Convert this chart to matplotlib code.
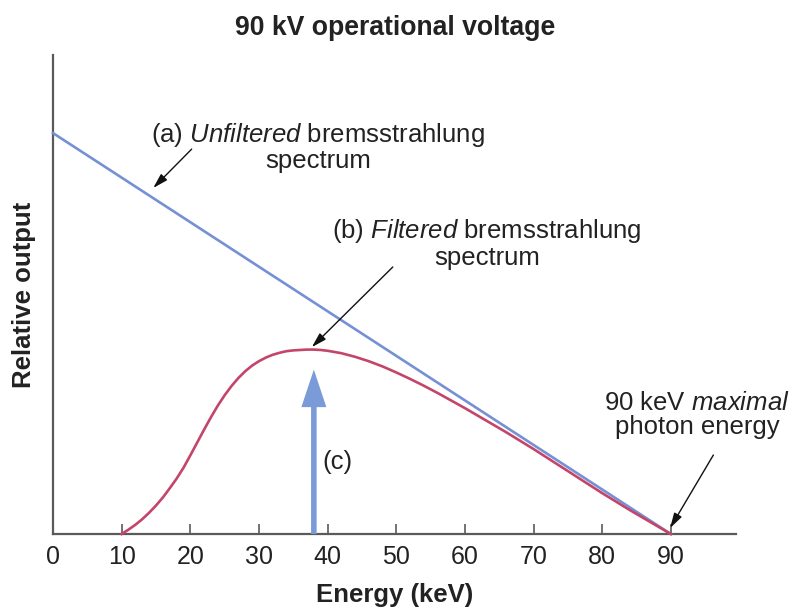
import matplotlib
matplotlib.use("Agg")
import matplotlib.pyplot as plt

plt.rcParams['font.family'] = ['Liberation Sans', 'DejaVu Sans']
plt.rcParams['mathtext.fontset'] = 'custom'
plt.rcParams['mathtext.rm'] = 'Liberation Sans'
plt.rcParams['mathtext.it'] = 'Liberation Sans:italic'

# Data
unfiltered_energy = [0, 90]
unfiltered_output = [1.0, 0.0]

filtered_energy = [10, 11, 12, 13, 14, 15, 16, 17, 18, 19, 20, 21, 22, 23, 24, 25,
                   26, 27, 28, 29, 30, 31, 32, 33, 34, 35, 36, 37, 38, 39, 40,
                   42, 44, 46, 48, 50, 52, 54, 56, 58, 60, 62, 64, 66, 68, 70,
                   72, 74, 76, 78, 80, 82, 84, 86, 88, 90]
filtered_output = [0.0, 0.011, 0.023, 0.037, 0.053, 0.071, 0.091, 0.114, 0.138,
                   0.165, 0.196, 0.228, 0.260, 0.291, 0.320, 0.346, 0.369, 0.389,
                   0.406, 0.420, 0.431, 0.440, 0.447, 0.452, 0.456, 0.458, 0.459,
                   0.460, 0.460, 0.459, 0.457, 0.451, 0.442, 0.431, 0.418, 0.403,
                   0.387, 0.370, 0.352, 0.333, 0.314, 0.294, 0.274, 0.254, 0.233,
                   0.212, 0.190, 0.168, 0.146, 0.124, 0.102, 0.081, 0.060, 0.040,
                   0.020, 0.0]

mean_energy = 38
mean_arrow_top = 0.41

xticks = [0, 10, 20, 30, 40, 50, 60, 70, 80, 90]

title = "90 kV operational voltage"
xlabel = "Energy (keV)"
ylabel = "Relative output"
label_a = "(a) $\\mathit{Unfiltered}$ bremsstrahlung\nspectrum"
label_b = "(b) $\\mathit{Filtered}$ bremsstrahlung\nspectrum"
label_c = "(c)"
label_max = "90 keV $\\mathit{maximal}$\nphoton energy"

blue = "#7590d4"
red = "#c4456a"
arrow_blue = "#7b9ad8"
spine_col = "#5a5a5a"
txt = "#222222"
fs = 18.5

fig = plt.figure(figsize=(7.97, 6.08), dpi=100)
ax = fig.add_axes([0.0665, 0.1217, 0.857, 0.788])

ax.plot(unfiltered_energy, unfiltered_output, color=blue, lw=1.9, clip_on=False, zorder=3)
ax.plot(filtered_energy, filtered_output, color=red, lw=1.9, clip_on=False, zorder=3)

ax.set_xlim(0, 99.5)
ax.set_ylim(0, 1.195)

for s in ['top', 'right']:
    ax.spines[s].set_visible(False)
for s in ['left', 'bottom']:
    ax.spines[s].set_color(spine_col)
    ax.spines[s].set_linewidth(1.6)

ax.set_xticks(xticks)
ax.set_xticklabels([str(t) for t in xticks], fontsize=18, color=txt)
ax.set_yticks([])
ax.tick_params(axis='x', direction='in', length=7, width=1.2, color=spine_col, pad=8)

ax.set_xlabel(xlabel, fontsize=18.5, fontweight='bold', color=txt, labelpad=10)
ax.set_ylabel(ylabel, fontsize=18.5, fontweight='bold', color=txt, labelpad=12)
fig.text(0.496, 0.954, title, fontsize=19.2, fontweight='bold', color=txt,
         ha='center', va='center')

# (c) mean energy arrow
ax.annotate('', xy=(mean_energy, mean_arrow_top), xytext=(mean_energy, 0),
            arrowprops=dict(arrowstyle='simple,head_length=1.35,head_width=0.9,tail_width=0.2',
                            mutation_scale=20, color=arrow_blue, lw=0,
                            shrinkA=0, shrinkB=0), zorder=4)
ax.text(41.4, 0.18, label_c, fontsize=fs, color=txt, ha='center', va='center')

black_arrow = dict(arrowstyle='-|>,head_length=0.45,head_width=0.13', color='#111111',
                   lw=1.0, shrinkA=0, shrinkB=0, mutation_scale=20)

ax.text(38.6, 0.966, label_a, fontsize=fs, color=txt, ha='center', va='center',
        linespacing=1.0)
ax.annotate('', xy=(14.6, 0.863), xytext=(20.2, 0.960), arrowprops=black_arrow)

ax.text(63.2, 0.725, label_b, fontsize=fs, color=txt, ha='center', va='center',
        linespacing=1.05)
ax.annotate('', xy=(37.7, 0.466), xytext=(49.5, 0.666), arrowprops=black_arrow)

ax.text(93.8, 0.297, label_max, fontsize=fs, color=txt, ha='center', va='center',
        linespacing=1.0, clip_on=False)
ax.annotate('', xy=(89.9, 0.015), xytext=(96.2, 0.197), arrowprops=black_arrow,
            annotation_clip=False)

fig.savefig("out.png", dpi=100)
